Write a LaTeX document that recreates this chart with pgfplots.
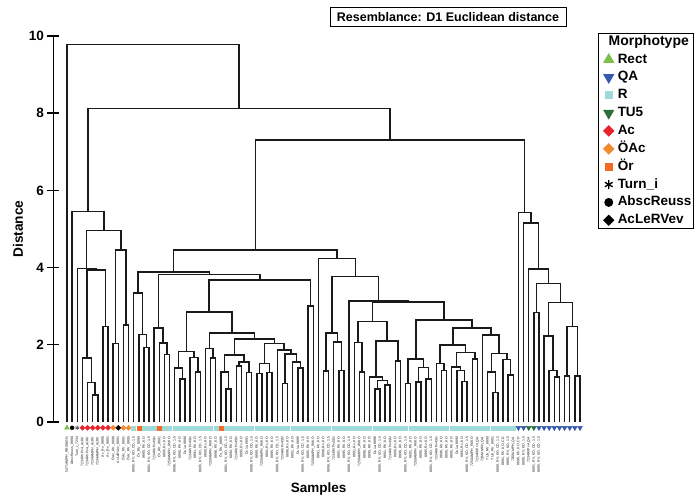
\documentclass[border=0pt]{standalone}
\usepackage{pgfplots}
\pgfplotsset{compat=1.18}
\usepackage{fontspec}
\setmainfont{Liberation Sans}
\definecolor{cRect}{HTML}{7CC04B}
\definecolor{cQA}{HTML}{3559B0}
\definecolor{cR}{HTML}{9FDADA}
\definecolor{cTU}{HTML}{2E6E3C}
\definecolor{cAc}{HTML}{E8242C}
\definecolor{cOAc}{HTML}{F28A2E}
\definecolor{cOr}{HTML}{F26A24}
\definecolor{tree}{HTML}{1A1A1A}
\begin{document}
\begin{tikzpicture}
\useasboundingbox (0pt,0pt) rectangle (694pt,502pt);
\begin{axis}[
  at={(53.3pt,80pt)}, anchor=south west,
  scale only axis, width=537pt, height=386pt,
  xmin=-1.6706, xmax=103.008, ymin=0, ymax=10,
  clip=false,
  axis y line*=left, axis x line*=bottom,
  x axis line style={draw=none},
  y axis line style={line width=1.4pt, black},
  ytick={0,2,4,6,8,10},
  tick align=center,
  major tick length=11.6pt,
  y tick style={line width=1.4pt, black},
  x tick style={draw=none},
  /pgf/number format/assume math mode=true,
  yticklabel style={font=\bfseries\fontsize{13.5}{16}\selectfont, anchor=east},
  xtick={1,...,101},
  xticklabels={5471AMPH\_RRSWGN, AbscReuss\_8890, Turn\_i\_7234, 7234RVPv4\_AcRV, 7234RVPv4\_AcRV, 7234AMPH\_AcRV, 7234AMPH\_AcRV, Ac\_Rv\_8890, Ac\_Rv\_8891, ÖAc\_RV\_8890, AcLeRVev\_8891, ÖAc\_RV\_8891, ÖAc\_RV\_8895,
  {8895, RV, KO, CD, 1.5}, Ör\_RV\_8890, {8890, RV, KO}, {8891, RV, KO, CD, 1.5}, 7234RVPv4SN, Ör\_RV\_8891, {8895, Rv, KO}, 7250AMPH\_RVKO, {8896, RV, KO, CD, 1.5}, {8890, RV, KO}, Ds 1a 8890, 7234RVPv4SN, {8891, RV, KO}, {8895, RV, KO, CD, 1.5}, {8890, Rv, KO}, 7250AMPH\_RVKO, {8896, RV, KO},
  Ör\_RV\_8895, {8891, RV, KO, CD, 1.5}, {8890, RV, KO}, 7234RVPv4SN, {8895, Rv, KO}, Ds 1a 8891, {8896, RV, KO, CD, 1.5}, {8890, RV, KO}, 7250AMPH\_RVKO, {8891, Rv, KO}, {8895, RV, KO}, {8890, RV, KO, CD, 1.5}, 7234RVPv4SN, {8896, Rv, KO}, {8891, RV, KO}, Ds 1a 8895, {8890, RV, KO, CD, 1.5}, {8895, RV, KO}, 7250AMPH\_RVKO, {8891, RV, KO},
  {8890, Rv, KO}, {8896, RV, KO, CD, 1.5}, 7234RVPv4SN, {8891, RV, KO}, {8895, RV, KO}, {8890, RV, KO, CD, 1.5}, {8891, Rv, KO}, 7250AMPH\_RVKO, {8896, RV, KO}, {8890, RV, KO}, Ds 1a 8896, {8895, RV, KO, CD, 1.5}, {8891, RV, KO}, 7234RVPv4SN, {8890, Rv, KO}, {8896, RV, KO}, {8895, RV, KO, CD, 1.5}, {8891, RV, KO}, 7250AMPH\_RVKO, {8890, RV, KO},
  {8895, Rv, KO}, {8891, RV, KO, CD, 1.5}, 7234RVPv4SN, {8896, RV, KO}, {8890, RV, KO}, {8895, RV, KO}, Ds 1a 8890, {8891, Rv, KO}, {8890, RV, KO, CD, 1.5}, 7250AMPH\_RVKO,
  7234RVPv4\_QA, 7234AMPH\_QA, TU5\_RV\_8890, TU5\_RV\_8891, {8890, RV, KO, CD, 1.5}, {8891, RV, KO, CD}, {8895, RV, KO, 1.5}, 7250AMPH\_QA, {8896, RV, KO, CD}, {8890, RV, KO, 1.5}, 7234RVPv4\_QA, {8891, RV, KO, CD, 1.5}, {8895, RV, KO, CD, 1.5}},
  xticklabel style={rotate=90, anchor=east, font=\fontsize{3.5}{4}\selectfont, text=black!90, inner sep=0pt},
  xticklabel shift=9pt,
  xlabel={Samples}, ylabel={Distance},
  xlabel style={at={(axis description cs:0.494,-0.173)}, anchor=center, font=\bfseries\fontsize{13.5}{16}\selectfont},
  ylabel style={at={(axis description cs:-0.0657,0.5)}, anchor=center, font=\bfseries\fontsize{13.7}{16}\selectfont},
  legend image code/.code={\path[draw=none,fill=none] (0pt,-4pt) rectangle (16pt,4pt); \draw[#1] plot[only marks] coordinates {(8pt,0pt)};},
  legend cell align=left,
  legend style={
    at={(axis description cs:1.0149,1.0085)}, anchor=north west,
    draw=black, line width=0.9pt, fill=white,
    inner xsep=2pt, inner ysep=1.5pt,
    row sep=3.86pt, column sep=1pt,
    font=\bfseries\fontsize{13.5}{16}\selectfont,
    nodes={inner sep=0pt, text height=10.5pt, text depth=3.5pt},
  },
]
\addplot[tree, line width=1.45pt, unbounded coords=jump, forget plot] coordinates {
(6,0)(6,0.70)(7,0.70)(7,0)(nan,nan)
(5,0)(5,1.03)(6.5,1.03)(6.5,0.70)(nan,nan)
(4,0)(4,1.66)(5.75,1.66)(5.75,1.03)(nan,nan)
(8,0)(8,2.48)(9,2.48)(9,0)(nan,nan)
(4.875,1.66)(4.875,3.94)(8.5,3.94)(8.5,2.48)(nan,nan)
(3,0)(3,3.97)(6.6875,3.97)(6.6875,3.94)(nan,nan)
(10,0)(10,2.04)(11,2.04)(11,0)(nan,nan)
(12,0)(12,2.51)(13,2.51)(13,0)(nan,nan)
(10.5,2.04)(10.5,4.46)(12.5,4.46)(12.5,2.51)(nan,nan)
(4.8438,3.97)(4.8438,4.96)(11.5,4.96)(11.5,4.46)(nan,nan)
(2,0)(2,5.45)(8.1719,5.45)(8.1719,4.96)(nan,nan)
(16,0)(16,1.93)(17,1.93)(17,0)(nan,nan)
(15,0)(15,2.27)(16.5,2.27)(16.5,1.93)(nan,nan)
(14,0)(14,3.34)(15.75,3.34)(15.75,2.27)(nan,nan)
(20,0)(20,1.75)(21,1.75)(21,0)(nan,nan)
(19,0)(19,2.05)(20.5,2.05)(20.5,1.75)(nan,nan)
(18,0)(18,2.43)(19.75,2.43)(19.75,2.05)(nan,nan)
(23,0)(23,1.11)(24,1.11)(24,0)(nan,nan)
(22,0)(22,1.40)(23.5,1.40)(23.5,1.11)(nan,nan)
(26,0)(26,1.30)(27,1.30)(27,0)(nan,nan)
(25,0)(25,1.67)(26.5,1.67)(26.5,1.30)(nan,nan)
(22.75,1.40)(22.75,1.82)(25.75,1.82)(25.75,1.67)(nan,nan)
(29,0)(29,1.66)(30,1.66)(30,0)(nan,nan)
(28,0)(28,1.90)(29.5,1.90)(29.5,1.66)(nan,nan)
(32,0)(32,0.85)(33,0.85)(33,0)(nan,nan)
(31,0)(31,1.30)(32.5,1.30)(32.5,0.85)(nan,nan)
(34,0)(34,1.45)(35,1.45)(35,0)(nan,nan)
(36,0)(36,1.28)(37,1.28)(37,0)(nan,nan)
(34.5,1.45)(34.5,1.56)(36.5,1.56)(36.5,1.28)(nan,nan)
(31.75,1.30)(31.75,1.74)(35.5,1.74)(35.5,1.56)(nan,nan)
(38,0)(38,1.26)(39,1.26)(39,0)(nan,nan)
(40,0)(40,1.28)(41,1.28)(41,0)(nan,nan)
(38.5,1.26)(38.5,1.52)(40.5,1.52)(40.5,1.28)(nan,nan)
(43,0)(43,1.00)(44,1.00)(44,0)(nan,nan)
(46,0)(46,1.40)(47,1.40)(47,0)(nan,nan)
(45,0)(45,1.56)(46.5,1.56)(46.5,1.40)(nan,nan)
(43.5,1.00)(43.5,1.76)(45.75,1.76)(45.75,1.56)(nan,nan)
(42,0)(42,1.87)(44.625,1.87)(44.625,1.76)(nan,nan)
(39.5,1.52)(39.5,2.04)(43.3125,2.04)(43.3125,1.87)(nan,nan)
(33.625,1.74)(33.625,2.15)(41.4063,2.15)(41.4063,2.04)(nan,nan)
(28.75,1.90)(28.75,2.31)(37.5156,2.31)(37.5156,2.15)(nan,nan)
(24.25,1.82)(24.25,2.85)(33.1328,2.85)(33.1328,2.31)(nan,nan)
(48,0)(48,3.00)(49,3.00)(49,0)(nan,nan)
(28.6914,2.85)(28.6914,3.68)(48.5,3.68)(48.5,3.00)(nan,nan)
(18.875,2.43)(18.875,3.82)(38.5957,3.82)(38.5957,3.68)(nan,nan)
(14.875,3.34)(14.875,3.89)(28.7354,3.89)(28.7354,3.82)(nan,nan)
(51,0)(51,1.32)(52,1.32)(52,0)(nan,nan)
(54,0)(54,1.33)(55,1.33)(55,0)(nan,nan)
(53,0)(53,2.07)(54.5,2.07)(54.5,1.33)(nan,nan)
(51.5,1.32)(51.5,2.30)(53.75,2.30)(53.75,2.07)(nan,nan)
(58,0)(58,1.30)(59,1.30)(59,0)(nan,nan)
(57,0)(57,2.06)(58.5,2.06)(58.5,1.30)(nan,nan)
(61,0)(61,0.85)(62,0.85)(62,0)(nan,nan)
(63,0)(63,0.96)(64,0.96)(64,0)(nan,nan)
(61.5,0.85)(61.5,1.07)(63.5,1.07)(63.5,0.96)(nan,nan)
(60,0)(60,1.17)(62.5,1.17)(62.5,1.07)(nan,nan)
(65,0)(65,1.58)(66,1.58)(66,0)(nan,nan)
(61.25,1.17)(61.25,2.10)(65.5,2.10)(65.5,1.58)(nan,nan)
(57.75,2.06)(57.75,2.60)(63.375,2.60)(63.375,2.10)(nan,nan)
(67,0)(67,1.00)(68,1.00)(68,0)(nan,nan)
(69,0)(69,1.04)(70,1.04)(70,0)(nan,nan)
(71,0)(71,1.11)(72,1.11)(72,0)(nan,nan)
(69.5,1.04)(69.5,1.41)(71.5,1.41)(71.5,1.11)(nan,nan)
(67.5,1.00)(67.5,1.63)(70.5,1.63)(70.5,1.41)(nan,nan)
(74,0)(74,1.33)(75,1.33)(75,0)(nan,nan)
(73,0)(73,1.52)(74.5,1.52)(74.5,1.33)(nan,nan)
(78,0)(78,1.05)(79,1.05)(79,0)(nan,nan)
(77,0)(77,1.33)(78.5,1.33)(78.5,1.05)(nan,nan)
(76,0)(76,1.43)(77.75,1.43)(77.75,1.33)(nan,nan)
(80,0)(80,1.63)(81,1.63)(81,0)(nan,nan)
(76.875,1.43)(76.875,1.80)(80.5,1.80)(80.5,1.63)(nan,nan)
(73.75,1.52)(73.75,1.99)(78.6875,1.99)(78.6875,1.80)(nan,nan)
(84,0)(84,0.77)(85,0.77)(85,0)(nan,nan)
(83,0)(83,1.29)(84.5,1.29)(84.5,0.77)(nan,nan)
(87,0)(87,1.22)(88,1.22)(88,0)(nan,nan)
(86,0)(86,1.62)(87.5,1.62)(87.5,1.22)(nan,nan)
(83.75,1.29)(83.75,1.78)(86.75,1.78)(86.75,1.62)(nan,nan)
(82,0)(82,2.25)(85.25,2.25)(85.25,1.78)(nan,nan)
(76.2188,1.99)(76.2188,2.43)(83.625,2.43)(83.625,2.25)(nan,nan)
(69,1.63)(69,2.64)(79.9219,2.64)(79.9219,2.43)(nan,nan)
(60.5625,2.60)(60.5625,3.11)(74.4609,3.11)(74.4609,2.64)(nan,nan)
(56,0)(56,3.14)(67.5117,3.14)(67.5117,3.11)(nan,nan)
(52.625,2.30)(52.625,3.77)(61.7559,3.77)(61.7559,3.14)(nan,nan)
(50,0)(50,4.23)(57.1904,4.23)(57.1904,3.77)(nan,nan)
(21.8052,3.89)(21.8052,4.46)(53.5952,4.46)(53.5952,4.23)(nan,nan)
(92,0)(92,2.83)(93,2.83)(93,0)(nan,nan)
(96,0)(96,1.16)(97,1.16)(97,0)(nan,nan)
(95,0)(95,1.33)(96.5,1.33)(96.5,1.16)(nan,nan)
(94,0)(94,2.23)(95.75,2.23)(95.75,1.33)(nan,nan)
(98,0)(98,1.19)(99,1.19)(99,0)(nan,nan)
(100,0)(100,1.19)(101,1.19)(101,0)(nan,nan)
(98.5,1.19)(98.5,2.47)(100.5,2.47)(100.5,1.19)(nan,nan)
(94.875,2.23)(94.875,3.09)(99.5,3.09)(99.5,2.47)(nan,nan)
(92.5,2.83)(92.5,3.59)(97.1875,3.59)(97.1875,3.09)(nan,nan)
(91,0)(91,3.96)(94.8438,3.96)(94.8438,3.59)(nan,nan)
(90,0)(90,5.15)(92.9219,5.15)(92.9219,3.96)(nan,nan)
(89,0)(89,5.43)(91.4609,5.43)(91.4609,5.15)(nan,nan)
(37.7002,4.46)(37.7002,7.30)(90.2305,7.30)(90.2305,5.43)(nan,nan)
(5.0859,5.45)(5.0859,8.12)(63.9653,8.12)(63.9653,7.30)(nan,nan)
(1,0)(1,9.78)(34.5256,9.78)(34.5256,8.12)
};
% leaf markers
\addplot[only marks, forget plot, mark=triangle*, mark size=2.8pt, color=cRect] coordinates {(1,-0.15)};
\addplot[only marks, forget plot, mark=*, mark size=2pt, color=black] coordinates {(2,-0.15)};
\addplot[only marks, forget plot, mark=asterisk, mark size=2.2pt, color=black!70, line width=0.6pt] coordinates {(3,-0.15)};
\addplot[only marks, forget plot, mark=square*, mark size=1.8pt, mark options={rotate=45}, color=cAc] coordinates {(4,-0.15)(5,-0.15)(6,-0.15)(7,-0.15)(8,-0.15)(9,-0.15)};
\addplot[only marks, forget plot, mark=square*, mark size=1.8pt, mark options={rotate=45}, color=cOAc] coordinates {(10,-0.15)(12,-0.15)(13,-0.15)};
\addplot[only marks, forget plot, mark=square*, mark size=1.8pt, mark options={rotate=45}, color=black] coordinates {(11,-0.15)};
\addplot[only marks, forget plot, mark=square*, mark size=2pt, color=cOr] coordinates {(15,-0.15)(19,-0.15)(31,-0.15)};
\addplot[only marks, forget plot, mark=square*, mark size=2pt, color=cR] coordinates {
(14,-0.15)(16,-0.15)(17,-0.15)(18,-0.15)(20,-0.15)(21,-0.15)(22,-0.15)(23,-0.15)(24,-0.15)(25,-0.15)(26,-0.15)(27,-0.15)(28,-0.15)(29,-0.15)(30,-0.15)
(32,-0.15)(33,-0.15)(34,-0.15)(35,-0.15)(36,-0.15)(37,-0.15)(38,-0.15)(39,-0.15)(40,-0.15)(41,-0.15)(42,-0.15)(43,-0.15)(44,-0.15)(45,-0.15)(46,-0.15)(47,-0.15)(48,-0.15)(49,-0.15)(50,-0.15)
(51,-0.15)(52,-0.15)(53,-0.15)(54,-0.15)(55,-0.15)(56,-0.15)(57,-0.15)(58,-0.15)(59,-0.15)(60,-0.15)(61,-0.15)(62,-0.15)(63,-0.15)(64,-0.15)(65,-0.15)(66,-0.15)(67,-0.15)(68,-0.15)(69,-0.15)(70,-0.15)
(71,-0.15)(72,-0.15)(73,-0.15)(74,-0.15)(75,-0.15)(76,-0.15)(77,-0.15)(78,-0.15)(79,-0.15)(80,-0.15)(81,-0.15)(82,-0.15)(83,-0.15)(84,-0.15)(85,-0.15)(86,-0.15)(87,-0.15)(88,-0.15)};
\addplot[only marks, forget plot, mark=triangle*, mark size=2.8pt, mark options={rotate=180}, color=cQA] coordinates {(89,-0.15)(90,-0.15)(93,-0.15)(94,-0.15)(95,-0.15)(96,-0.15)(97,-0.15)(98,-0.15)(99,-0.15)(100,-0.15)(101,-0.15)};
\addplot[only marks, forget plot, mark=triangle*, mark size=2.8pt, mark options={rotate=180}, color=cTU] coordinates {(91,-0.15)(92,-0.15)};
% legend
\addlegendimage{empty legend}\addlegendentry{\hspace*{-9pt}\fontsize{14}{16}\selectfont Morphotype}
\addlegendimage{mark=triangle*, mark size=5.6pt, color=cRect}\addlegendentry{Rect}
\addlegendimage{mark=triangle*, mark size=5.6pt, mark options={rotate=180}, color=cQA}\addlegendentry{QA}
\addlegendimage{mark=square*, mark size=3.7pt, color=cR}\addlegendentry{R}
\addlegendimage{mark=triangle*, mark size=5.6pt, mark options={rotate=180}, color=cTU}\addlegendentry{TU5}
\addlegendimage{mark=square*, mark size=3.6pt, mark options={rotate=45}, color=cAc}\addlegendentry{Ac}
\addlegendimage{mark=square*, mark size=3.6pt, mark options={rotate=45}, color=cOAc}\addlegendentry{ÖAc}
\addlegendimage{mark=square*, mark size=3.7pt, color=cOr}\addlegendentry{Ör}
\addlegendimage{mark=asterisk, mark size=4.5pt, line width=1.3pt, color=black}\addlegendentry{Turn\_i}
\addlegendimage{mark=*, mark size=4pt, color=black}\addlegendentry{AbscReuss}
\addlegendimage{mark=square*, mark size=3.6pt, mark options={rotate=45}, color=black}\addlegendentry{AcLeRVev}
\end{axis}
\node[draw, line width=1pt, fill=white, minimum width=236pt, minimum height=19pt, inner sep=0pt, font=\bfseries\fontsize{12.5}{15}\selectfont] at (448pt,484.5pt) {Resemblance: D1 Euclidean distance};
\end{tikzpicture}
\end{document}
